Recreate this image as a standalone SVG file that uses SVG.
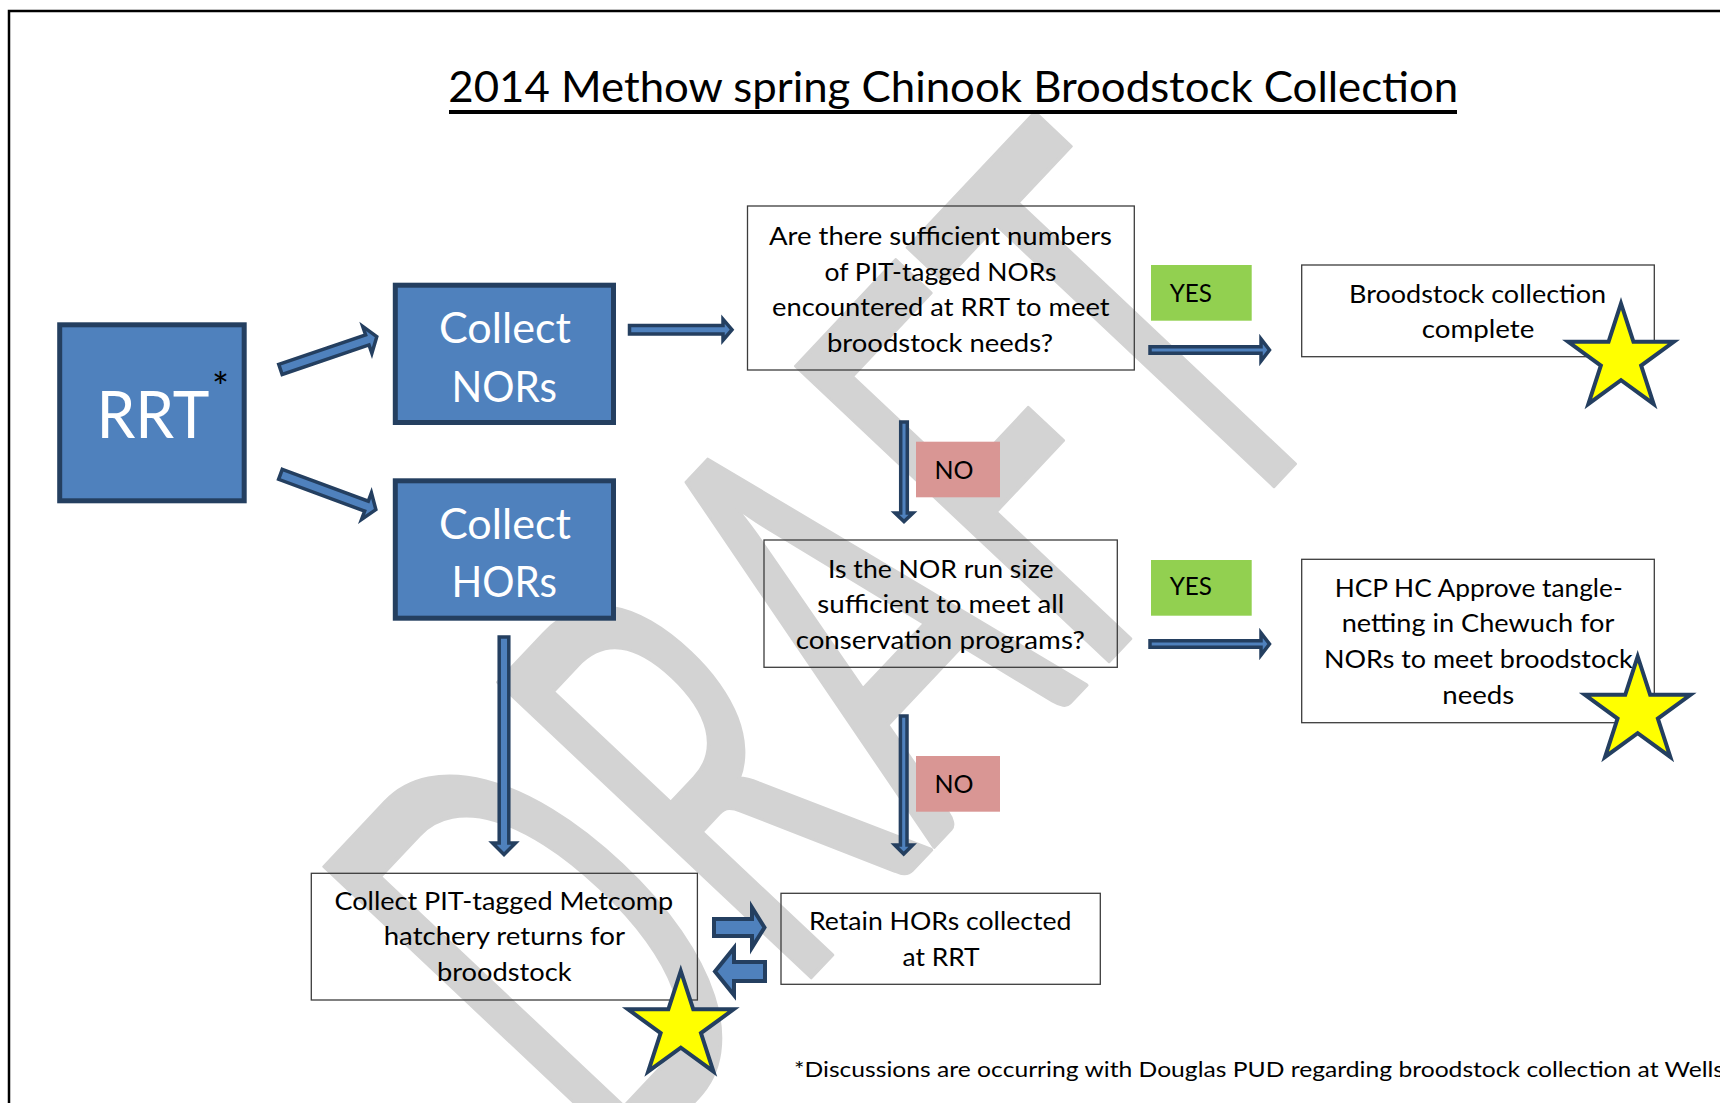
<svg xmlns="http://www.w3.org/2000/svg" width="1720" height="1103" viewBox="0 0 1720 1103">
<style>
.wm{font-family:Lato,"Liberation Sans",sans-serif;font-size:600px;fill:#d3d3d3;stroke:#d3d3d3;stroke-width:4;stroke-linejoin:round}
.t{font-family:Lato,"Liberation Sans",sans-serif;font-size:25.5px;fill:#000}
.w{font-family:Lato,"Liberation Sans",sans-serif;font-size:42px;fill:#fff}
.box{fill:none;stroke:#3c3c3c;stroke-width:1.3}
.blue{fill:#4F81BD;stroke:#243F60;stroke-width:5}
.yes{fill:#92D050}
.no{fill:#D99694}
.arr{fill:#4F81BD;stroke:#243F60;stroke-width:3.5;stroke-linejoin:miter}
.arr4{fill:#4F81BD;stroke:#243F60;stroke-width:4;stroke-linejoin:miter}
.star{fill:#FFFF00;stroke:#243F60;stroke-width:4;stroke-linejoin:miter}
</style>
<defs>
<polygon id="star5" points="0,-55.5 12.46,-17.15 52.78,-17.15 20.16,6.55 32.62,44.9 0,21.2 -32.62,44.9 -20.16,6.55 -52.78,-17.15 -12.46,-17.15"/>
</defs>
<rect x="0" y="0" width="1720" height="1103" fill="#fff"/>
<g id="watermark">
<text class="wm" transform="translate(620,1180) rotate(-46.7)" x="-6" y="0" textLength="1073" lengthAdjust="spacingAndGlyphs">DRAFT</text>
</g>
<path d="M9,1103 V11 H1720" fill="none" stroke="#000" stroke-width="2.5"/>
<g id="title">
<text x="448.3" y="102.3" style="font-family:Lato,'Liberation Sans',sans-serif;font-size:42px" fill="#000" textLength="1010" lengthAdjust="spacingAndGlyphs">2014 Methow spring Chinook Broodstock Collection</text>
<rect x="449" y="110" width="1008" height="4" fill="#000"/>
</g>
<g id="connectors">
<polygon class="arr" transform="translate(278.8,370) rotate(-18.8)" points="1.75,-5.3 93.5,-5.3 93.5,-14.2 103.5,0 93.5,14.2 93.5,5.3 1.75,5.3"/>
<polygon class="arr" transform="translate(278.8,473.7) rotate(20.3)" points="1.75,-5.3 93.5,-5.3 93.5,-14.2 103.5,0 93.5,14.2 93.5,5.3 1.75,5.3"/>
<polygon class="arr" points="629.5,325.4 723,325.4 723,319.2 732,329.7 723,340.2 723,334 629.5,334"/>
<polygon class="arr" points="1150,346.7 1261,346.7 1261,339 1269.5,350 1261,361 1261,353.3 1150,353.3"/>
<polygon class="arr" points="1150,640.7 1261,640.7 1261,633 1269.5,644 1261,655 1261,647.3 1150,647.3"/>
<polygon class="arr" points="900.7,422 907.3,422 907.3,513 913,513 904,521.5 895,513 900.7,513"/>
<polygon class="arr" points="900.4,716 907,716 907,845 912.7,845 903.7,854 894.7,845 900.4,845"/>
<polygon class="arr" points="499.2,637 508.8,637 508.8,843 515.5,843 504,854.5 492.5,843 499.2,843"/>
<polygon class="arr4" points="714,919 752,919 752,907.5 764.5,927.5 752,947.5 752,936 714,936"/>
<polygon class="arr4" points="765,962 734,962 734,948 715,971.5 734,995 734,981 765,981"/>
</g>
<g id="node-rrt">
<rect class="blue" x="59.7" y="324.8" width="184.5" height="176"/>
<text x="96.4" y="438.3" style="font-family:Lato,'Liberation Sans',sans-serif;font-size:66px" fill="#fff" textLength="113" lengthAdjust="spacingAndGlyphs">RRT</text>
<text x="212" y="402" style="font-family:Lato,'Liberation Sans',sans-serif;font-size:40px" fill="#000">*</text>
</g>
<g id="node-nors">
<rect class="blue" x="395.3" y="285.2" width="218.2" height="137.3"/>
<text class="w" x="439" y="343.3" textLength="132" lengthAdjust="spacingAndGlyphs">Collect</text>
<text class="w" x="451.5" y="401.7" textLength="105.4" lengthAdjust="spacingAndGlyphs">NORs</text>
</g>
<g id="node-hors">
<rect class="blue" x="395.3" y="480.8" width="218.2" height="137.4"/>
<text class="w" x="439" y="539.3" textLength="132" lengthAdjust="spacingAndGlyphs">Collect</text>
<text class="w" x="451.5" y="596.7" textLength="105.4" lengthAdjust="spacingAndGlyphs">HORs</text>
</g>
<g id="node-q1">
<rect class="box" x="747.5" y="206" width="386.8" height="164"/>
<text class="t" x="769" y="245" textLength="343" lengthAdjust="spacingAndGlyphs">Are there sufficient numbers</text>
<text class="t" x="824.5" y="280.5" textLength="232" lengthAdjust="spacingAndGlyphs">of PIT-tagged NORs</text>
<text class="t" x="772" y="316" textLength="337.5" lengthAdjust="spacingAndGlyphs">encountered at RRT to meet</text>
<text class="t" x="827" y="351.5" textLength="226" lengthAdjust="spacingAndGlyphs">broodstock needs?</text>
</g>
<g id="label-yes1">
<rect class="yes" x="1151" y="265" width="100.7" height="55.7"/>
<text class="t" x="1169.7" y="301.7" textLength="42.3" lengthAdjust="spacingAndGlyphs">YES</text>
</g>
<g id="label-no1">
<rect class="no" x="916" y="441.7" width="84" height="55.6"/>
<text class="t" x="934.5" y="479" textLength="39" lengthAdjust="spacingAndGlyphs">NO</text>
</g>
<g id="node-complete">
<rect class="box" x="1301.7" y="265" width="352.6" height="91.7"/>
<text class="t" x="1349" y="302.7" textLength="257" lengthAdjust="spacingAndGlyphs">Broodstock collection</text>
<text class="t" x="1421.7" y="338.3" textLength="112.6" lengthAdjust="spacingAndGlyphs">complete</text>
<use href="#star5" class="star" transform="translate(1621,359)"/>
</g>
<g id="node-q2">
<rect class="box" x="764" y="540" width="353.3" height="127.3"/>
<text class="t" x="828" y="578.3" textLength="225.5" lengthAdjust="spacingAndGlyphs">Is the NOR run size</text>
<text class="t" x="817.3" y="613.3" textLength="247" lengthAdjust="spacingAndGlyphs">sufficient to meet all</text>
<text class="t" x="795.7" y="649.3" textLength="289.3" lengthAdjust="spacingAndGlyphs">conservation programs?</text>
</g>
<g id="label-yes2">
<rect class="yes" x="1151" y="560" width="100.7" height="55.7"/>
<text class="t" x="1169.7" y="595" textLength="42.3" lengthAdjust="spacingAndGlyphs">YES</text>
</g>
<g id="label-no2">
<rect class="no" x="916" y="756" width="84" height="55.7"/>
<text class="t" x="934.5" y="793.3" textLength="39" lengthAdjust="spacingAndGlyphs">NO</text>
</g>
<g id="node-hcp">
<rect class="box" x="1301.7" y="559.3" width="352.6" height="163.4"/>
<text class="t" x="1334.7" y="596.7" textLength="288" lengthAdjust="spacingAndGlyphs">HCP HC Approve tangle-</text>
<text class="t" x="1341.7" y="631.7" textLength="272.6" lengthAdjust="spacingAndGlyphs">netting in Chewuch for</text>
<text class="t" x="1324" y="668.3" textLength="308.7" lengthAdjust="spacingAndGlyphs">NORs to meet broodstock</text>
<text class="t" x="1442.3" y="704" textLength="72" lengthAdjust="spacingAndGlyphs">needs</text>
<use href="#star5" class="star" transform="translate(1637.7,712)"/>
</g>
<g id="node-pit">
<rect class="box" x="311.3" y="873.3" width="386.1" height="126.7"/>
<text class="t" x="334.5" y="910" textLength="338.7" lengthAdjust="spacingAndGlyphs">Collect PIT-tagged Metcomp</text>
<text class="t" x="383.7" y="945" textLength="241.3" lengthAdjust="spacingAndGlyphs">hatchery returns for</text>
<text class="t" x="437" y="981" textLength="134.6" lengthAdjust="spacingAndGlyphs">broodstock</text>
<use href="#star5" class="star" transform="translate(680.8,1026.5)"/>
</g>
<g id="node-retain">
<rect class="box" x="781" y="893.3" width="319.3" height="91"/>
<text class="t" x="809" y="930" textLength="262.4" lengthAdjust="spacingAndGlyphs">Retain HORs collected</text>
<text class="t" x="902.6" y="966" textLength="77" lengthAdjust="spacingAndGlyphs">at RRT</text>
</g>
<g id="footnote">
<text x="794" y="1077.3" style="font-family:Lato,'Liberation Sans',sans-serif;font-size:21.5px" fill="#000" textLength="930" lengthAdjust="spacingAndGlyphs">*Discussions are occurring with Douglas PUD regarding broodstock collection at Wells</text>
</g>
</svg>
